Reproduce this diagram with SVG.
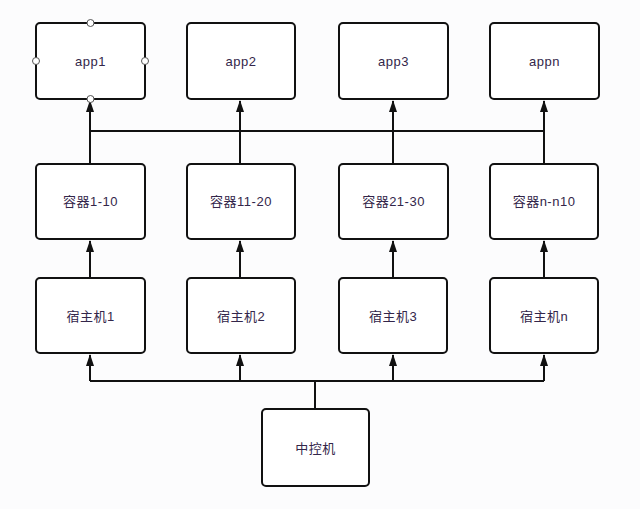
<svg xmlns="http://www.w3.org/2000/svg" width="640" height="509" viewBox="0 0 640 509">
<style>
.box{fill:#fff;stroke:#111;stroke-width:2}
.t{font-family:"Liberation Sans","Noto Sans CJK SC",sans-serif;font-size:13px;letter-spacing:0.5px;fill:#33264a;text-anchor:middle;dominant-baseline:central}
.c{fill:none;stroke:#111;stroke-width:2}
.h{fill:#fff;stroke:#555;stroke-width:1}
</style>
<defs>
<marker id="ar" viewBox="0 0 12 8" refX="11" refY="4" markerWidth="6" markerHeight="4" orient="auto" markerUnits="strokeWidth">
<path d="M0,0 L12,4 L0,8 z" fill="#111"/>
</marker>
</defs>
<rect width="640" height="509" fill="#fcfcfd"/>
<g id="connectors">
<path class="c" d="M90,381 H544"/>
<path class="c" d="M315,409 V381"/>
<path class="c" d="M90,381 V355" marker-end="url(#ar)"/>
<path class="c" d="M240,381 V355" marker-end="url(#ar)"/>
<path class="c" d="M393,381 V355" marker-end="url(#ar)"/>
<path class="c" d="M544,381 V355" marker-end="url(#ar)"/>
<path class="c" d="M90,278 V241" marker-end="url(#ar)"/>
<path class="c" d="M240,278 V241" marker-end="url(#ar)"/>
<path class="c" d="M393,278 V241" marker-end="url(#ar)"/>
<path class="c" d="M544,278 V241" marker-end="url(#ar)"/>
<path class="c" d="M90,131 H544"/>
<path class="c" d="M90,164 V101" marker-end="url(#ar)"/>
<path class="c" d="M240,164 V101" marker-end="url(#ar)"/>
<path class="c" d="M393,164 V101" marker-end="url(#ar)"/>
<path class="c" d="M544,164 V101" marker-end="url(#ar)"/>
</g>
<g id="app1"><rect class="box" x="36" y="23" width="109" height="76" rx="4"/><text class="t" x="90.5" y="61">app1</text>
<circle class="h" cx="90.5" cy="23" r="3.5"/><circle class="h" cx="36" cy="61" r="3.5"/><circle class="h" cx="145" cy="61" r="3.5"/><circle class="h" cx="90.5" cy="99" r="3.5"/></g>
<g id="app2"><rect class="box" x="187" y="23" width="108" height="76" rx="4"/><text class="t" x="241" y="61">app2</text></g>
<g id="app3"><rect class="box" x="339" y="23" width="109" height="76" rx="4"/><text class="t" x="393.5" y="61">app3</text></g>
<g id="appn"><rect class="box" x="490" y="23" width="109" height="76" rx="4"/><text class="t" x="544.5" y="61">appn</text></g>
<g id="c1"><rect class="box" x="36" y="164" width="109" height="75" rx="4"/><text class="t" x="90.5" y="201">容器1-10</text></g>
<g id="c2"><rect class="box" x="187" y="164" width="108" height="75" rx="4"/><text class="t" x="241" y="201">容器11-20</text></g>
<g id="c3"><rect class="box" x="339" y="164" width="109" height="75" rx="4"/><text class="t" x="393.5" y="201">容器21-30</text></g>
<g id="c4"><rect class="box" x="490" y="164" width="108" height="75" rx="4"/><text class="t" x="544" y="201">容器n-n10</text></g>
<g id="h1"><rect class="box" x="36" y="278" width="109" height="75" rx="4"/><text class="t" x="90.5" y="316">宿主机1</text></g>
<g id="h2"><rect class="box" x="187" y="278" width="108" height="75" rx="4"/><text class="t" x="241" y="316">宿主机2</text></g>
<g id="h3"><rect class="box" x="339" y="278" width="108" height="75" rx="4"/><text class="t" x="393" y="316">宿主机3</text></g>
<g id="hn"><rect class="box" x="490" y="278" width="108" height="75" rx="4"/><text class="t" x="544" y="316">宿主机n</text></g>
<g id="ctrl"><rect class="box" x="262" y="409" width="107" height="77" rx="4"/><text class="t" x="315.5" y="448">中控机</text></g>
</svg>
